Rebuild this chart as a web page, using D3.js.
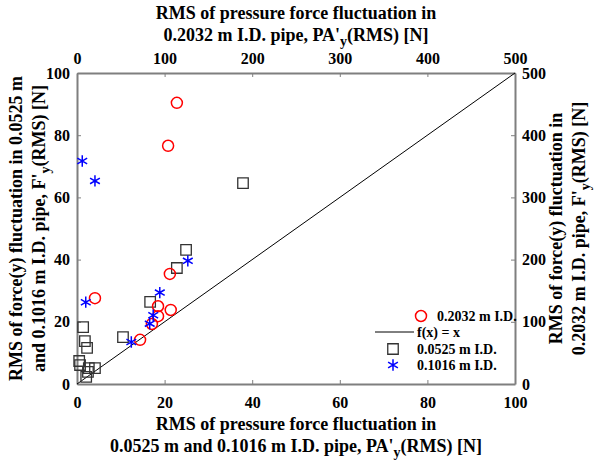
<!DOCTYPE html>
<html>
<head>
<meta charset="utf-8">
<script src="https://cdn.jsdelivr.net/npm/d3@7"></script>
<style>
  body { margin: 0; background: #fff; }
  text { font-family: "Liberation Serif", "Times New Roman", serif; font-weight: bold; fill: #000; }
</style>
</head>
<body>
<div id="chart"></div>
<script>
// 0.2032 m I.D. pipe (top / right axes, 0-500)
const pipe2032X = [114, 104, 106, 20.5, 92.5, 107, 92.5, 85.5, 72];
const pipe2032Y = [452, 383, 177, 138, 125, 119, 109, 96.5, 71];

// 0.0525 m I.D. pipe (bottom / left axes, 0-100)
const pipe0525X = [1.4, 1.8, 2.3, 0.5, 0.7, 2.7, 4.1, 2.5, 2.1, 10.5, 16.7, 22.8, 24.9, 37.9];
const pipe0525Y = [18.3, 13.8, 11.6, 7.4, 6.1, 5.1, 5.1, 3.9, 2.3, 15.1, 26.4, 37.3, 43.1, 64.6];

// 0.1016 m I.D. pipe (bottom / left axes, 0-100)
const pipe1016X = [1.2, 4.1, 25.3, 18.9, 2.0, 17.4, 16.6, 12.4];
const pipe1016Y = [71.7, 65.3, 39.6, 29.4, 26.3, 22.1, 19.4, 13.5];

const ticksSmall = [0, 20, 40, 60, 80, 100];
const ticksLarge = [0, 100, 200, 300, 400, 500];
const lineXY = [0, 100];

const legendLabels = ["0.2032 m I.D.", "f(x) = x", "0.0525 m I.D.", "0.1016 m I.D."];

const width = 598, height = 461;
const margin = {top: 73, right: 83, bottom: 77, left: 77};

const svg = d3.select("#chart").append("svg")
    .attr("width", width)
    .attr("height", height);

const x = d3.scaleLinear().domain([0, 100]).range([margin.left, width - margin.right]);
const y = d3.scaleLinear().domain([0, 100]).range([height - margin.bottom, margin.top]);
const x2 = d3.scaleLinear().domain([0, 500]).range(x.range());
const y2 = d3.scaleLinear().domain([0, 500]).range(y.range());

const axisColor = "#7f7f7f";

function styleAxis(g) {
    g.select(".domain").attr("stroke", axisColor).attr("stroke-width", 2);
    g.selectAll(".tick line").attr("stroke", axisColor);
    g.selectAll(".tick text").style("font-size", "16px");
}

svg.append("g")
    .attr("transform", `translate(0,${y(0)})`)
    .call(d3.axisBottom(x).tickValues(ticksSmall).tickSizeInner(-4).tickSizeOuter(0).tickPadding(13))
    .call(styleAxis);

svg.append("g")
    .attr("transform", `translate(${x(0)},0)`)
    .call(d3.axisLeft(y).tickValues(ticksSmall).tickSizeInner(-4).tickSizeOuter(0).tickPadding(7))
    .call(styleAxis);

svg.append("g")
    .attr("transform", `translate(0,${y(100)})`)
    .call(d3.axisTop(x2).tickValues(ticksLarge).tickSizeInner(-4).tickSizeOuter(0).tickPadding(9))
    .call(styleAxis);

svg.append("g")
    .attr("transform", `translate(${x(100)},0)`)
    .call(d3.axisRight(y2).tickValues(ticksLarge).tickSizeInner(-4).tickSizeOuter(0).tickPadding(7))
    .call(styleAxis);

// f(x) = x
svg.append("path")
    .datum(lineXY)
    .attr("fill", "none")
    .attr("stroke", "#000")
    .attr("stroke-width", 1)
    .attr("d", d3.line().x(d => x(d)).y(d => y(d)));

const star = d3.symbol().type(d3.symbolAsterisk).size(90);
const square = d3.symbol().type(d3.symbolSquare).size(110);

svg.append("g").selectAll("path")
    .data(d3.zip(pipe0525X, pipe0525Y))
    .join("path")
    .attr("transform", d => `translate(${x(d[0])},${y(d[1])})`)
    .attr("d", square)
    .attr("fill", "none")
    .attr("stroke", "#333")
    .attr("stroke-width", 1.3);

svg.append("g").selectAll("circle")
    .data(d3.zip(pipe2032X, pipe2032Y))
    .join("circle")
    .attr("cx", d => x2(d[0]))
    .attr("cy", d => y2(d[1]))
    .attr("r", 5.5)
    .attr("fill", "none")
    .attr("stroke", "#ff0000")
    .attr("stroke-width", 1.5);

svg.append("g").selectAll("path")
    .data(d3.zip(pipe1016X, pipe1016Y))
    .join("path")
    .attr("transform", d => `translate(${x(d[0])},${y(d[1])})`)
    .attr("d", star)
    .attr("fill", "none")
    .attr("stroke", "#0000ff")
    .attr("stroke-width", 1.5);

// legend
const legend = svg.append("g").style("font-size", "14px");
const ly = [316, 332, 349, 365];

legend.append("circle").attr("cx", 421).attr("cy", ly[0]).attr("r", 5.5)
    .attr("fill", "none").attr("stroke", "#ff0000").attr("stroke-width", 1.5);
legend.append("line").attr("x1", 375).attr("x2", 414).attr("y1", ly[1]).attr("y2", ly[1])
    .attr("stroke", "#000");
legend.append("path").attr("transform", `translate(393,${ly[2]})`).attr("d", square)
    .attr("fill", "none").attr("stroke", "#333").attr("stroke-width", 1.3);
legend.append("path").attr("transform", `translate(393,${ly[3]})`).attr("d", star)
    .attr("fill", "none").attr("stroke", "#0000ff").attr("stroke-width", 1.5);

legend.selectAll("text")
    .data(legendLabels)
    .join("text")
    .attr("x", (d, i) => i === 0 ? 437 : 417)
    .attr("y", (d, i) => ly[i])
    .attr("dy", "0.35em")
    .text(d => d);

// axis titles
function subLabel(g, parts) {
    parts.forEach(p => {
        const t = g.append("tspan").text(p.t);
        if (p.sub) t.attr("baseline-shift", "-35%").style("font-size", "14px");
    });
}

const titleSize = "18px";

const top1 = svg.append("text").attr("x", 296).attr("y", 19).attr("text-anchor", "middle").style("font-size", titleSize);
top1.text("RMS of pressure force fluctuation in");
const top2 = svg.append("text").attr("x", 296).attr("y", 41).attr("text-anchor", "middle").style("font-size", titleSize);
subLabel(top2, [{t: "0.2032 m I.D. pipe, PA'"}, {t: "y", sub: true}, {t: "(RMS) [N]"}]);

const bot1 = svg.append("text").attr("x", 296).attr("y", 430).attr("text-anchor", "middle").style("font-size", titleSize);
bot1.text("RMS of pressure force fluctuation in");
const bot2 = svg.append("text").attr("x", 296).attr("y", 452).attr("text-anchor", "middle").style("font-size", titleSize);
subLabel(bot2, [{t: "0.0525 m and 0.1016 m I.D. pipe, PA'"}, {t: "y", sub: true}, {t: "(RMS) [N]"}]);

const cy = (y(0) + y(100)) / 2;
const left1 = svg.append("text").attr("transform", `translate(22,${cy}) rotate(-90)`).attr("text-anchor", "middle").style("font-size", titleSize);
left1.text("RMS of force(y) fluctuation in 0.0525 m");
const left2 = svg.append("text").attr("transform", `translate(45,${cy}) rotate(-90)`).attr("text-anchor", "middle").style("font-size", titleSize);
subLabel(left2, [{t: "and 0.1016 m I.D. pipe, F'"}, {t: "y", sub: true}, {t: "(RMS) [N]"}]);

const right1 = svg.append("text").attr("transform", `translate(562,${cy}) rotate(-90)`).attr("text-anchor", "middle").style("font-size", titleSize);
right1.text("RMS of force(y) fluctuation in");
const right2 = svg.append("text").attr("transform", `translate(585,${cy}) rotate(-90)`).attr("text-anchor", "middle").style("font-size", titleSize);
subLabel(right2, [{t: "0.2032 m I.D. pipe, F'"}, {t: "y", sub: true}, {t: "(RMS) [N]"}]);
</script>
</body>
</html>
